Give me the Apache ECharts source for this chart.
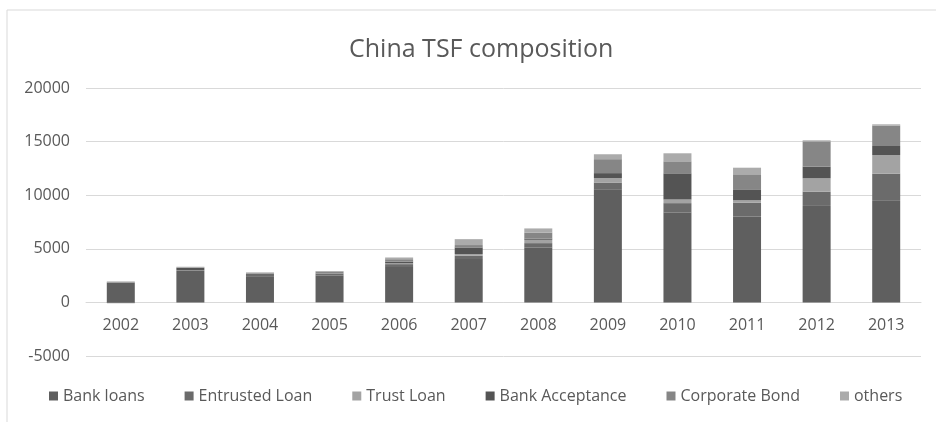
<!DOCTYPE html>
<html>
<head>
<meta charset="utf-8">
<title>China TSF composition</title>
<script src="https://cdn.jsdelivr.net/npm/echarts@6/dist/echarts.min.js"></script>
<style>
  html, body { margin: 0; padding: 0; background: #ffffff; }
  #chart { width: 936px; height: 422px; }
</style>
</head>
<body>
<div id="chart"></div>
<script>
// Total social financing by component, RMB 100 million
const years = ['2002', '2003', '2004', '2005', '2006', '2007', '2008', '2009', '2010', '2011', '2012', '2013'];
const bankLoans       = [1840, 2960, 2380, 2490, 3300, 4040, 5100, 10500, 8380, 8010, 9000, 9470];
const entrustedLoan   = [20, 60, 310, 200, 270, 310, 430, 680, 880, 1300, 1330, 2540];
const trustLoan       = [0, 0, 0, 0, 80, 160, 310, 410, 340, 215, 1250, 1740];
const bankAcceptance  = [-70, 200, -30, 0, 150, 615, 110, 470, 2440, 965, 1080, 840];
const corporateBond   = [35, 50, 40, 200, 230, 225, 550, 1300, 1120, 1460, 2360, 1900];
const others          = [60, 55, 70, 30, 160, 550, 400, 460, 750, 615, 100, 120];
const yTicks = [-5000, 0, 5000, 10000, 15000, 20000];

const seriesDefs = [
  { name: 'Bank loans',      data: bankLoans,      color: '#5f5f5f' },
  { name: 'Entrusted Loan',  data: entrustedLoan,  color: '#6b6b6b' },
  { name: 'Trust Loan',      data: trustLoan,      color: '#a3a3a3' },
  { name: 'Bank Acceptance', data: bankAcceptance, color: '#545454' },
  { name: 'Corporate Bond',  data: corporateBond,  color: '#868686' },
  { name: 'others',          data: others,         color: '#ababab' }
];

const font = '"Open Sans", "Liberation Sans", sans-serif';
const gridTop = 88, gridBottom = 66, chartHeight = 422;
const yMin = yTicks[0], yMax = yTicks[yTicks.length - 1];
// shift the category axis up so it sits on the zero line
const zeroOffset = -(0 - yMin) / (yMax - yMin) * (chartHeight - gridTop - gridBottom);

const chart = echarts.init(document.getElementById('chart'), null, { renderer: 'canvas' });

chart.setOption({
  backgroundColor: '#ffffff',
  animation: false,
  title: {
    text: 'China TSF composition',
    left: 344,
    top: 32,
    textStyle: { fontFamily: font, fontSize: 25, fontWeight: 'normal', color: '#595959' }
  },
  legend: {
    left: 44,
    top: 383,
    itemWidth: 9,
    itemHeight: 9,
    itemGap: 40,
    icon: 'rect',
    textStyle: { fontFamily: font, fontSize: 16, color: '#595959' },
    data: seriesDefs.map(s => s.name)
  },
  graphic: [{
    type: 'rect',
    shape: { x: 7, y: 10, width: 960, height: 440 },
    style: { fill: 'none', stroke: '#d9d9d9', lineWidth: 1 },
    silent: true
  }],
  grid: { left: 86, right: 15, top: gridTop, bottom: gridBottom, containLabel: false },
  xAxis: {
    type: 'category',
    data: years,
    position: 'bottom',
    offset: zeroOffset,
    axisLine: { onZero: false, lineStyle: { color: '#d9d9d9', width: 1 } },
    axisTick: { show: false },
    axisLabel: { fontFamily: font, fontSize: 16, color: '#595959', margin: 15 }
  },
  yAxis: {
    type: 'value',
    min: yMin,
    max: yMax,
    interval: 5000,
    axisLine: { show: false },
    axisTick: { show: false },
    axisLabel: { fontFamily: font, fontSize: 16, color: '#595959', margin: 16, formatter: v => String(v) },
    splitLine: { lineStyle: { color: '#d9d9d9', width: 1 } }
  },
  series: seriesDefs.map(s => ({
    name: s.name,
    type: 'bar',
    stack: 'tsf',
    barWidth: 28,
    data: s.data,
    itemStyle: { color: s.color }
  }))
});
</script>
</body>
</html>
